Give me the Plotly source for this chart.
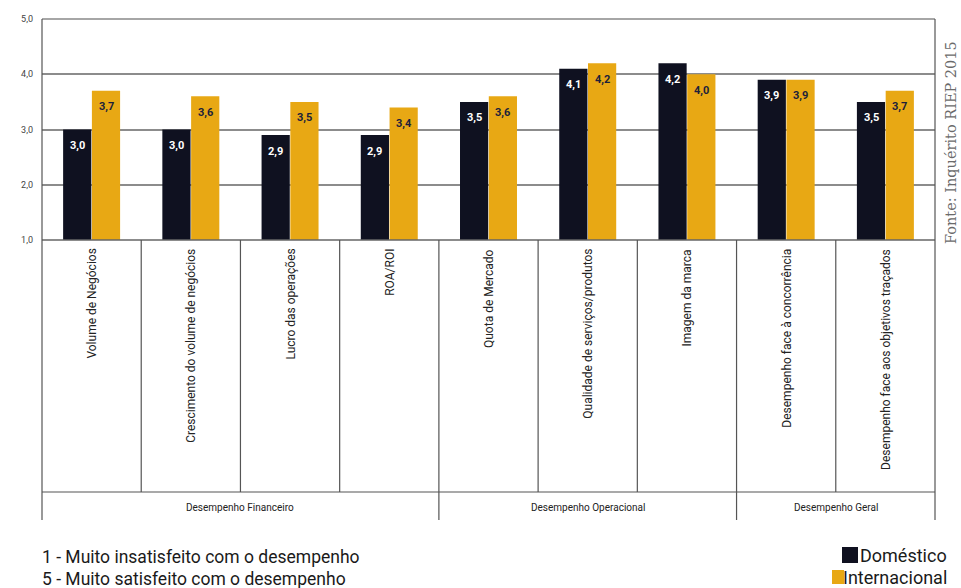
import plotly.graph_objects as go

categories = ["Volume de Negócios", "Crescimento do volume de negócios", "Lucro das operações",
              "ROA/ROI", "Quota de Mercado", "Qualidade de serviços/produtos", "Imagem da marca",
              "Desempenho face à concorrência", "Desempenho face aos objetivos traçados"]
domestico = [3.0, 3.0, 2.9, 2.9, 3.5, 4.1, 4.2, 3.9, 3.5]
internacional = [3.7, 3.6, 3.5, 3.4, 3.6, 4.2, 4.0, 3.9, 3.7]
series_names = ["Doméstico", "Internacional"]
series_colors = ["#0f1120", "#e8a814"]
groups = ["Desempenho Financeiro", "Desempenho Operacional", "Desempenho Geral"]
group_sizes = [4, 3, 2]
y_ticks = [1, 2, 3, 4, 5]
y_ticktext = ["1,0", "2,0", "3,0", "4,0", "5,0"]
notes = ["1 - Muito insatisfeito com o desempenho", "5 - Muito satisfeito com o desempenho"]
source = "Fonte: Inquérito RIEP 2015"

def fmt(v):
    return f"{v:.1f}".replace(".", ",")

x = list(range(len(categories)))
n = len(categories)
SANS = "Roboto, 'Noto Sans', sans-serif"
BARGAP = 0.42
half = (1 - BARGAP) / 4  # offset of each bar centre from category centre

fig = go.Figure()
for name, vals, col in zip(series_names, [domestico, internacional], series_colors):
    fig.add_trace(go.Bar(
        x=x, y=[v - 1 for v in vals], base=1, name=name,
        marker=dict(color=col, line=dict(width=0)), hoverinfo="skip", showlegend=False))

# paper mapping: plot area x 42..935 px, y 19..240 px
def py(p):
    return (240 - p) / 221.0

def px(p):
    return (p - 42) / 893.0

shapes = []
line_col = "#555555"
shapes.append(dict(type="line", xref="paper", yref="paper", x0=0, x1=1, y0=1, y1=1,
                   line=dict(color="#888888", width=1.5)))
shapes.append(dict(type="line", xref="paper", yref="paper", x0=0, x1=1, y0=0, y1=0,
                   line=dict(color="#666666", width=1.5)))
shapes.append(dict(type="line", xref="paper", yref="paper", x0=0, x1=0, y0=1, y1=py(520),
                   line=dict(color=line_col, width=1.2)))
shapes.append(dict(type="line", xref="paper", yref="paper", x0=1, x1=1, y0=1, y1=py(520),
                   line=dict(color=line_col, width=1.2)))
shapes.append(dict(type="line", xref="paper", yref="paper", x0=0, x1=1, y0=py(492), y1=py(492),
                   line=dict(color=line_col, width=1.2)))
bounds = []
acc = 0
for s in group_sizes[:-1]:
    acc += s
    bounds.append(acc)
for k in range(1, n):
    ybot = py(520) if k in bounds else py(492)
    shapes.append(dict(type="line", xref="paper", yref="paper", x0=k / n, x1=k / n, y0=0, y1=ybot,
                       line=dict(color=line_col, width=1.2)))

# legend (manual, matches the reference placement)
legend_boxes = [(842, 858, 547, 563), (832, 844, 570, 584)]
legend_text_x = [860, 843]
legend_text_y = [555, 577]
for (x0, x1, y0, y1), col in zip(legend_boxes, series_colors):
    shapes.append(dict(type="rect", xref="paper", yref="paper", x0=px(x0), x1=px(x1),
                       y0=py(y1), y1=py(y0), fillcolor=col, line=dict(width=0), layer="above"))

annotations = []
for i in range(n):
    annotations.append(dict(x=x[i] - half, xref="x", y=domestico[i], yref="y", text=fmt(domestico[i]),
                            showarrow=False, xanchor="center", yanchor="middle", yshift=-16,
                            font=dict(family=SANS, size=11, color="white", weight="bold")))
    annotations.append(dict(x=x[i] + half, xref="x", y=internacional[i], yref="y", text=fmt(internacional[i]),
                            showarrow=False, xanchor="center", yanchor="middle", yshift=-16,
                            font=dict(family=SANS, size=11, color="#1c1f3a", weight="bold")))
for i, c in enumerate(categories):
    annotations.append(dict(x=x[i], xref="x", y=py(247), yref="paper", text=c, textangle=-90,
                            showarrow=False, xanchor="center", yanchor="top",
                            font=dict(family=SANS, size=12, color="#222222")))
start = 0
for g, s in zip(groups, group_sizes):
    annotations.append(dict(x=(start + s / 2) / n, xref="paper", y=py(507), yref="paper", text=g,
                            showarrow=False, xanchor="center", yanchor="middle",
                            font=dict(family=SANS, size=10, color="#222222")))
    start += s
for j, t in enumerate(notes):
    annotations.append(dict(x=0, xref="paper", y=py(557 + 22 * j), yref="paper", text=t,
                            showarrow=False, xanchor="left", yanchor="middle", xshift=-2,
                            font=dict(family=SANS, size=17.5, color="#1a1a1a")))
for name, tx, ty in zip(series_names, legend_text_x, legend_text_y):
    annotations.append(dict(x=px(tx), xref="paper", y=py(ty), yref="paper", text=name,
                            showarrow=False, xanchor="left", yanchor="middle", xshift=-2,
                            font=dict(family=SANS, size=18, color="#1a1a1a")))
annotations.append(dict(x=px(951), xref="paper", y=py(143), yref="paper", text=source,
                        textangle=-90, showarrow=False, xanchor="center", yanchor="middle",
                        font=dict(family="'DejaVu Serif', 'Liberation Serif', serif", size=14.5, color="#6a6a6a")))

fig.update_layout(
    width=961, height=588,
    margin=dict(l=42, r=26, t=19, b=348, pad=0, autoexpand=False),
    paper_bgcolor="white", plot_bgcolor="white",
    barmode="group", bargap=BARGAP, bargroupgap=0.02,
    showlegend=False,
    xaxis=dict(range=[-0.5, n - 0.5], showticklabels=False, showgrid=False, zeroline=False,
               showline=False, ticks=""),
    yaxis=dict(range=[1, 5], tickvals=y_ticks, ticktext=y_ticktext, showgrid=True,
               gridcolor="#8c8c8c", gridwidth=1.5, zeroline=False, showline=False, ticks="",
               tickfont=dict(family=SANS, size=9, color="#444444"), ticklabelstandoff=8),
    shapes=shapes, annotations=annotations,
    font=dict(family=SANS),
)

fig.write_html("out.html")
